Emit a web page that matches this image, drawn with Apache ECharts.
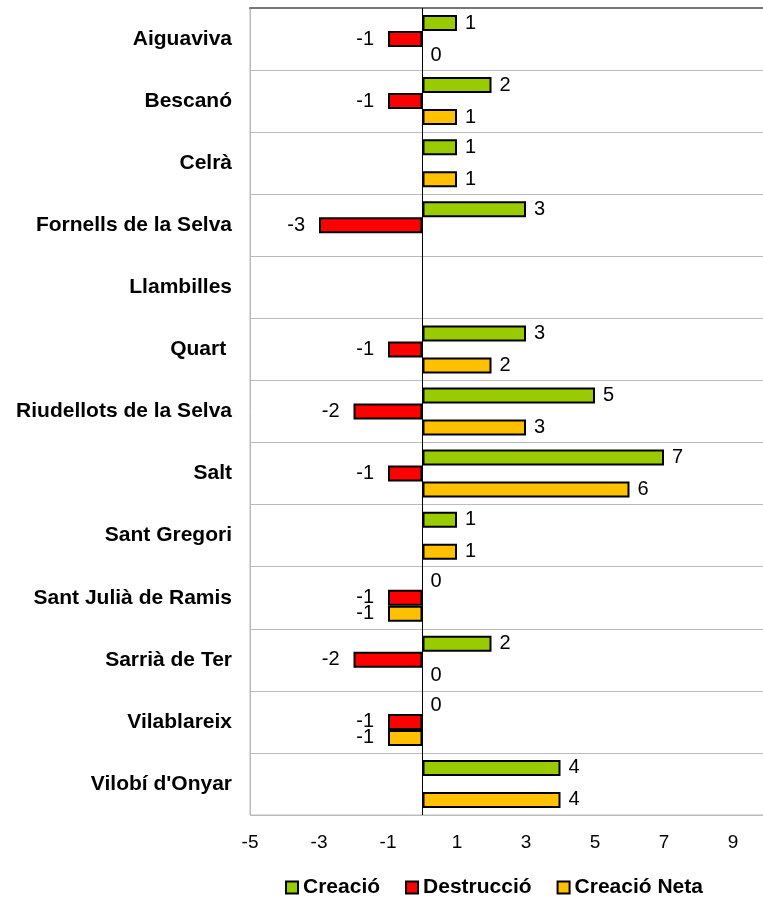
<!DOCTYPE html>
<html>
<head>
<meta charset="utf-8">
<script src="https://cdn.jsdelivr.net/npm/echarts@6/dist/echarts.min.js"></script>
<style>
  html, body { margin: 0; padding: 0; background: #fff; }
  #chart { width: 763px; height: 905px; }
</style>
</head>
<body>
<div id="chart"></div>
<script>
// municipis i valors (null = sense barra)
var municipis = ['Aiguaviva', 'Bescanó', 'Celrà', 'Fornells de la Selva', 'Llambilles', 'Quart ',
  'Riudellots de la Selva', 'Salt', 'Sant Gregori', 'Sant Julià de Ramis', 'Sarrià de Ter',
  'Vilablareix', "Vilobí d'Onyar"];
var creacio    = [1, 2, 1, 3, null, 3, 5, 7, 1, 0, 2, 0, 4];
var destruccio = [-1, -1, null, -3, null, -1, -2, -1, null, -1, -2, -1, null];
var neta       = [0, 1, 1, null, null, 2, 3, 6, 1, -1, 0, -1, 4];

var FONT = '"Liberation Sans", Arial, sans-serif';

// els negatius porten l'etiqueta a l'esquerra; els zeros sense vora
function punts(arr) {
  return arr.map(function (v) {
    if (v === null) return '-';
    if (v < 0) return { value: v, label: { position: 'left', distance: 14 } };
    if (v === 0) return { value: v, itemStyle: { borderWidth: 0 } };
    return v;
  });
}

function serie(nom, color, dades) {
  return {
    name: nom,
    type: 'bar',
    barWidth: 16,
    barGap: '0%',
    data: punts(dades),
    itemStyle: { color: color, borderColor: '#000', borderWidth: 2 },
    label: {
      show: true,
      position: 'right',
      distance: 8,
      color: '#000',
      fontFamily: FONT,
      fontSize: 20
    }
  };
}

var chart = echarts.init(document.getElementById('chart'));

var series = [
  serie('Creació', '#99CC00', creacio),
  serie('Destrucció', '#FF0000', destruccio),
  serie('Creació Neta', '#FFC000', neta)
];
// línia del zero
series[0].markLine = {
  silent: true,
  symbol: ['none', 'none'],
  label: { show: false },
  lineStyle: { color: '#000', width: 1, type: 'solid' },
  data: [{ xAxis: 0 }]
};

chart.setOption({
  animation: false,
  backgroundColor: '#fff',
  grid: {
    left: 250, top: 8, width: 552, height: 807,
    outerBoundsMode: 'none', containLabel: false,
    show: true, borderColor: '#bbb', borderWidth: 1
  },
  legend: {
    left: 285,
    top: 877,
    padding: 0,
    itemGap: 25,
    itemWidth: 12,
    itemHeight: 12,
    icon: 'rect',
    itemStyle: { borderColor: '#000', borderWidth: 2 },
    textStyle: { fontFamily: FONT, fontSize: 21, fontWeight: 'bold', color: '#000' },
    data: ['Creació', 'Destrucció', 'Creació Neta']
  },
  xAxis: [{
    type: 'value',
    min: -5,
    max: 11,
    interval: 1,
    axisLine: { show: false },
    axisTick: { show: false },
    splitLine: { show: false },
    axisLabel: {
      margin: 18,
      color: '#000',
      fontFamily: FONT,
      fontSize: 19,
      formatter: function (v) { return (v + 5) % 2 === 0 && v < 10 ? String(v) : ''; }
    }
  }, {
    type: 'value',
    position: 'top',
    min: -5,
    max: 11,
    axisLine: { show: true, lineStyle: { color: '#777', width: 2 } },
    axisTick: { show: false },
    axisLabel: { show: false },
    splitLine: { show: false }
  }],
  yAxis: {
    type: 'category',
    inverse: true,
    data: municipis,
    axisLine: { show: true, onZero: false, lineStyle: { color: '#bbb' } },
    axisTick: { show: false },
    splitLine: { show: true, lineStyle: { color: '#bbb', width: 1 } },
    axisLabel: {
      margin: 18,
      color: '#000',
      fontFamily: FONT,
      fontSize: 21,
      fontWeight: 'bold'
    }
  },
  series: series
});
</script>
</body>
</html>
